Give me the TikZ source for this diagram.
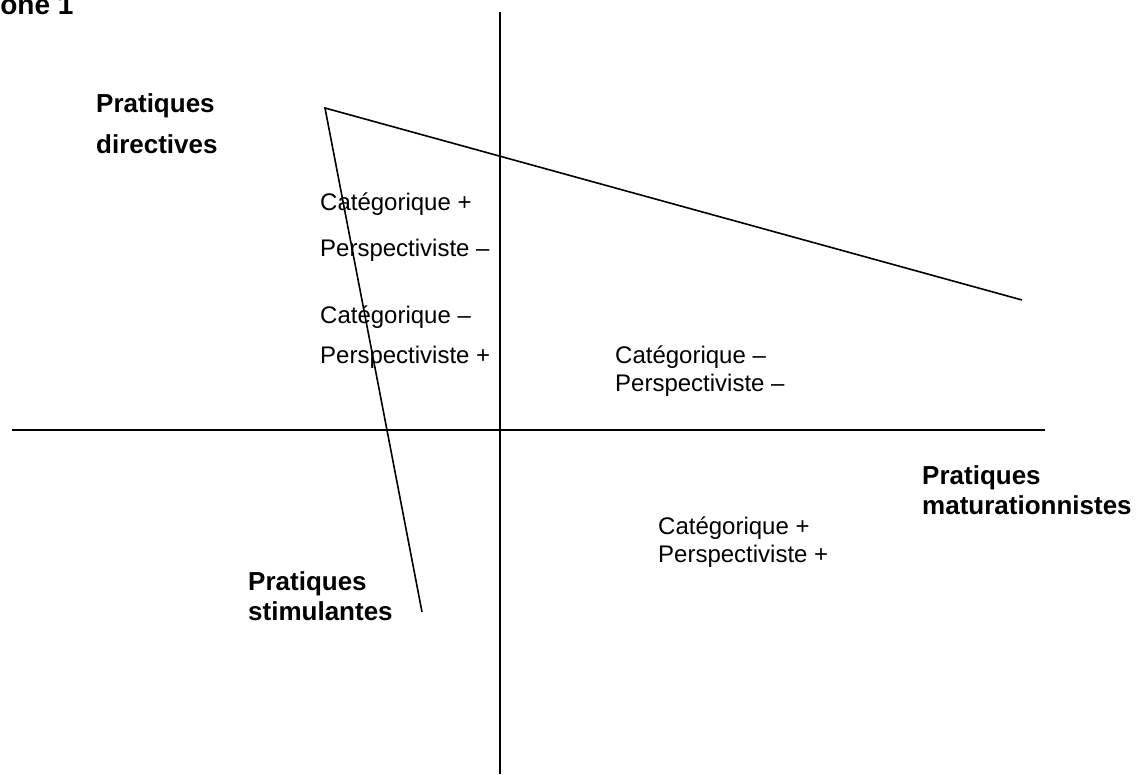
\documentclass[tikz,border=0pt]{standalone}
\usepackage{fontspec}
\setmainfont{Liberation Sans}
\usepackage{tikz}

\begin{document}
\begin{tikzpicture}[x=1pt,y=-1pt,
    etiq/.style={anchor=base west,inner sep=0pt,font=\fontsize{24}{28}\selectfont},
    titre/.style={etiq,font=\fontsize{26}{30}\selectfont\bfseries},
    trait/.style={line width=1.6pt}]
        \useasboundingbox (0,0) rectangle (1145,774);

        % zone label (cut by the page edge)
        \node[titre,font=\fontsize{28}{32}\selectfont\bfseries] (zone) at (-17,14) {Zone 1};

        % axes
        \coordinate (haut) at (500,12);
        \coordinate (bas) at (500,774);
        \coordinate (gauche) at (12,430);
        \coordinate (droite) at (1045,430);
        \draw [trait] (haut) -- (bas);
        \draw [trait] (gauche) -- (droite);

        % practices
        \coordinate (dir) at (325,108);
        \coordinate (mat) at (1022,300);
        \coordinate (stim) at (422,612);
        \draw [trait] (mat) -- (dir) -- (stim);

        % directives
        \node[titre] (dirA) at (96,112) {Pratiques};
        \node[titre] (dirB) at (96,153) {directives};
        % maturationnistes
        \node[titre] (matA) at (922,484) {Pratiques};
        \node[titre] (matB) at (922,514) {maturationnistes};
        % stimulantes
        \node[titre] (stimA) at (248,590) {Pratiques};
        \node[titre] (stimB) at (248,620) {stimulantes};

        % C+ P-
        \node[etiq] (cpA) at (320,210) {Catégorique +};
        \node[etiq] (cpB) at (320,256) {Perspectiviste –};
        % C- P+
        \node[etiq] (cmA) at (320,323) {Catégorique –};
        \node[etiq] (cmB) at (320,363) {Perspectiviste +};
        % C- P-
        \node[etiq] (mmA) at (615,363) {Catégorique –};
        \node[etiq] (mmB) at (615,391) {Perspectiviste –};
        % C+ P+
        \node[etiq] (ppA) at (658,534) {Catégorique +};
        \node[etiq] (ppB) at (658,562) {Perspectiviste +};
    \end{tikzpicture}
\end{document}
